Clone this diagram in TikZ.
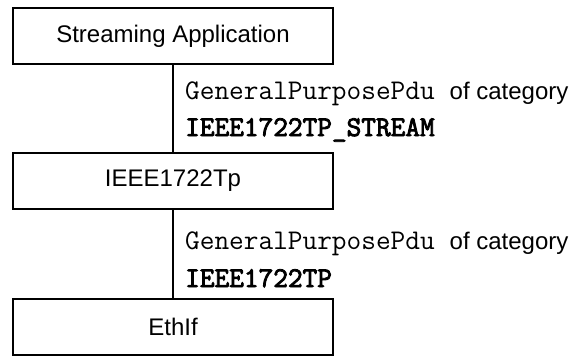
\documentclass[tikz,border=0pt]{standalone}
\usepackage{fontspec}
\setmainfont{Liberation Sans}
\newfontfamily\codeheavy{Latin Modern Mono}[FakeBold=3]
\begin{document}
\begin{tikzpicture}[x=1pt,y=-1pt,
  blockbox/.style={draw=black,line width=2pt,fill=white,minimum width=320pt,minimum height=56pt,inner sep=0pt,font=\fontsize{24}{28}\selectfont},
  stem/.style={draw=black,line width=2pt},
  lbl/.style={anchor=base west,inner sep=0pt,font=\fontsize{24}{28}\selectfont}]
\newcommand{\codetext}[1]{{\fontsize{28.5}{32}\selectfont\ttfamily #1}}
\newcommand{\codebold}[1]{{\fontsize{28.5}{32}\selectfont\codeheavy #1}}
\useasboundingbox (0,0) rectangle (574,356);
\node[blockbox] (app) at (173,36) {Streaming Application};
\node[blockbox] (tp) at (173,181) {IEEE1722Tp};
\node[blockbox] (eth) at (173,327) {EthIf};
\draw[stem] (app.south) -- (tp.north);
\draw[stem] (tp.south) -- (eth.north);
\node[lbl] (l1a) at (185,99) {\codetext{GeneralPurposePdu}\hspace{15pt}of category};
\node[lbl] (l1b) at (185,136) {\codebold{IEEE1722TP\_STREAM}};
\node[lbl] (l2a) at (185,249) {\codetext{GeneralPurposePdu}\hspace{15pt}of category};
\node[lbl] (l2b) at (185,287) {\codebold{IEEE1722TP}};
\end{tikzpicture}
\end{document}
